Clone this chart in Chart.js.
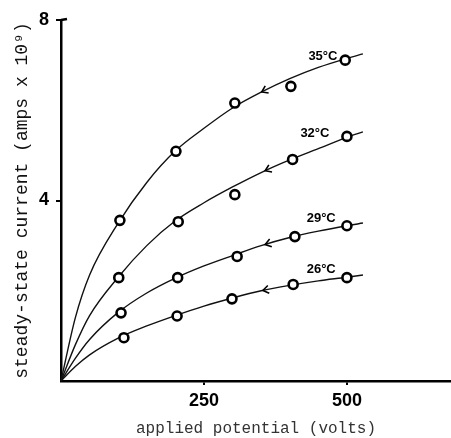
<!DOCTYPE html>
<html>
<head>
<meta charset="utf-8">
<script src="https://cdn.jsdelivr.net/npm/chart.js@4.4.1/dist/chart.umd.min.js"></script>
<style>
  html, body { margin: 0; padding: 0; background: #fff; }
  #wrap { width: 451px; height: 438px; }
</style>
</head>
<body>
<div id="wrap"><canvas id="chartCurrent"></canvas></div>
<script>
// temperatures, label positions and arrow spots
const temps = ['35°C', '32°C', '29°C', '26°C'];
const labelX = [458, 444, 455, 455];
const labelY = [7.2, 5.49, 3.6, 2.47];
const arrowX = [351, 357, 357, 353];

// measured points (volts, amps x 10^9)
const pts35 = [[103, 3.56], [201, 5.09], [304, 6.16], [402, 6.53], [497, 7.11]];
const pts32 = [[101, 2.29], [205, 3.53], [304, 4.13], [405, 4.91], [500, 5.42]];
const pts29 = [[105, 1.51], [204, 2.29], [308, 2.76], [409, 3.2], [500, 3.44]];
const pts26 = [[110, 0.96], [203, 1.44], [299, 1.82], [406, 2.14], [500, 2.29]];

// drawn curves
const curveV = [0, 25, 50, 100, 150, 200, 250, 300, 350, 400, 450, 500, 528];
const curve35 = [0, 1.4, 2.35, 3.5, 4.4, 5.1, 5.6, 6.05, 6.4, 6.7, 6.95, 7.15, 7.25];
const curve32 = [0, 0.8, 1.45, 2.3, 3.0, 3.55, 3.95, 4.3, 4.62, 4.9, 5.15, 5.4, 5.52];
const curve29 = [0, 0.5, 0.92, 1.52, 1.95, 2.28, 2.55, 2.78, 3.0, 3.18, 3.32, 3.44, 3.5];
const curve26 = [0, 0.32, 0.58, 0.95, 1.22, 1.45, 1.66, 1.84, 2.0, 2.12, 2.22, 2.3, 2.35];

const xTicks = [250, 500];
const yTicks = [4, 8];

const allPts = [pts35, pts32, pts29, pts26];
const allCurves = [curve35, curve32, curve29, curve26];

const datasets = [];
allCurves.forEach((c, i) => {
  datasets.push({
    label: temps[i] + ' curve',
    data: curveV.map((v, k) => ({ x: v, y: c[k] })),
    showLine: true,
    borderColor: '#111',
    borderWidth: 1.4,
    pointRadius: 0,
    cubicInterpolationMode: 'monotone',
    clip: false,
    order: 2
  });
});
allPts.forEach((p, i) => {
  datasets.push({
    label: temps[i],
    data: p.map(d => ({ x: d[0], y: d[1] })),
    showLine: false,
    pointRadius: 4.5,
    pointBorderWidth: 2.6,
    pointBorderColor: '#000',
    pointBackgroundColor: '#fff',
    order: 1
  });
});

function curveAt(c, v) {
  for (let k = 1; k < curveV.length; k++) {
    if (v <= curveV[k]) {
      const t = (v - curveV[k - 1]) / (curveV[k] - curveV[k - 1]);
      return c[k - 1] + t * (c[k] - c[k - 1]);
    }
  }
  return c[c.length - 1];
}

const annotations = {
  id: 'annotations',
  afterDatasetsDraw(chart) {
    const { ctx, scales: { x, y } } = chart;
    ctx.save();
    // arrowheads pointing back toward lower voltage
    ctx.strokeStyle = '#000';
    ctx.lineWidth = 1.6;
    allCurves.forEach((c, i) => {
      const v = arrowX[i];
      const px = x.getPixelForValue(v);
      const py = y.getPixelForValue(curveAt(c, v));
      const qx = x.getPixelForValue(v + 20);
      const qy = y.getPixelForValue(curveAt(c, v + 20));
      const ang = Math.atan2(qy - py, qx - px);
      const len = 7, spread = 0.6;
      ctx.beginPath();
      ctx.moveTo(px + len * Math.cos(ang + spread), py + len * Math.sin(ang + spread));
      ctx.lineTo(px, py);
      ctx.lineTo(px + len * Math.cos(ang - spread), py + len * Math.sin(ang - spread));
      ctx.stroke();
    });
    // little hook at the top of the y axis
    const top = y.getPixelForValue(8);
    const left = x.getPixelForValue(0);
    ctx.lineWidth = 2.5;
    ctx.beginPath();
    ctx.moveTo(left, top);
    ctx.lineTo(left + 6, top - 1);
    ctx.stroke();
    // temperature labels
    ctx.fillStyle = '#000';
    ctx.font = 'bold 13px "Liberation Sans", sans-serif';
    ctx.textAlign = 'center';
    ctx.textBaseline = 'middle';
    temps.forEach((t, i) => {
      ctx.fillText(t, x.getPixelForValue(labelX[i]), y.getPixelForValue(labelY[i]));
    });
    ctx.restore();
  }
};

new Chart(document.getElementById('chartCurrent').getContext('2d'), {
  type: 'scatter',
  data: { datasets },
  options: {
    responsive: true,
    maintainAspectRatio: false,
    animation: false,
    layout: { autoPadding: false, padding: { left: 4, top: 20, right: 0, bottom: 0 } },
    plugins: {
      legend: { display: false },
      tooltip: { enabled: false }
    },
    scales: {
      x: {
        type: 'linear',
        min: 0,
        max: 682,
        afterBuildTicks: s => { s.ticks = xTicks.map(v => ({ value: v })); },
        afterFit: s => { s.height = 57; },
        border: { display: true, color: '#000', width: 2.5 },
        grid: { drawOnChartArea: false, drawTicks: true, tickLength: 4, color: '#000', lineWidth: 2 },
        ticks: {
          color: '#000',
          padding: 5,
          font: { family: '"Liberation Sans", sans-serif', size: 18, weight: 'bold' }
        },
        title: {
          display: true,
          text: 'applied potential (volts)',
          color: '#333',
          padding: { top: 3, bottom: 0 },
          font: { family: '"Liberation Mono", monospace', size: 16 }
        }
      },
      y: {
        min: 0,
        max: 8,
        afterBuildTicks: s => { s.ticks = yTicks.map(v => ({ value: v })); },
        afterFit: s => { s.width = 57; },
        border: { display: true, color: '#000', width: 2.5 },
        grid: { drawOnChartArea: false, drawTicks: true, tickLength: 5, color: '#000', lineWidth: 2 },
        ticks: {
          color: '#000',
          padding: 7,
          font: { family: '"Liberation Sans", sans-serif', size: 18, weight: 'bold' }
        },
        title: {
          display: true,
          text: 'steady-state current (amps x 10⁹)',
          color: '#111',
          padding: { top: 7, bottom: 4 },
          font: { family: '"Liberation Mono", monospace', size: 18 }
        }
      }
    }
  },
  plugins: [annotations]
});
</script>
</body>
</html>
